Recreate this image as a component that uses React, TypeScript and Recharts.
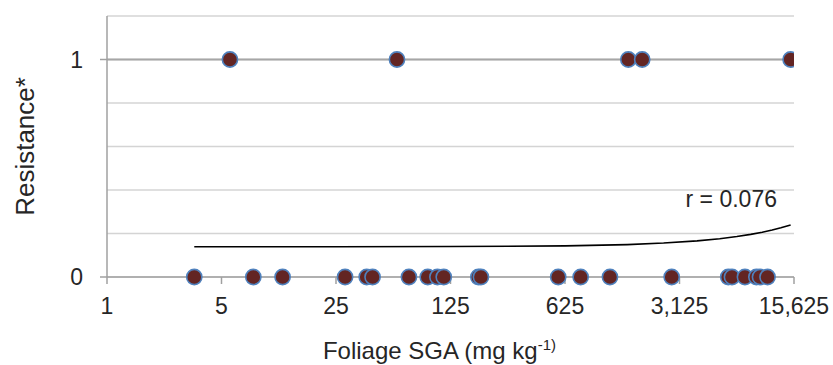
import React from "react";
import {
  ScatterChart,
  Scatter,
  XAxis,
  YAxis,
  CartesianGrid,
  ReferenceLine,
  ReferenceDot,
} from "recharts";

// x values (mg kg-1) of trees scored resistant (1)
const resistantX = [5.63, 58.9, 1522, 1850, 14900];
// x values of trees scored susceptible (0)
const susceptibleX = [
  3.41, 7.82, 11.8, 28.4, 38.5, 41.8, 69.7, 90.8, 104, 113.7, 184.9, 191.7,
  568, 779, 1176, 2800, 6200, 6535, 7840, 9210, 9690, 10770,
];
// fitted trend line
const trendX = [3.41, 25, 125, 625, 1500, 2500, 4000, 5500, 7000, 8500, 10000, 11500, 13000, 14900];
const trendY = [0.139, 0.139, 0.14, 0.143, 0.149, 0.156, 0.166, 0.176, 0.186, 0.196, 0.206, 0.216, 0.226, 0.239];

const xTicks = [1, 5, 25, 125, 625, 3125, 15625];
const yTicks = [0, 0.2, 0.4, 0.6, 0.8, 1, 1.2];
const yLabelled = [0, 1];
const rLabel = "r = 0.076";

const pointsData = [
  ...resistantX.map((x) => ({ x, y: 1 })),
  ...susceptibleX.map((x) => ({ x, y: 0 })),
];
const trendData = trendX.map((x, i) => ({ x, y: trendY[i] }));

const FONT = "'Liberation Sans', Arial, sans-serif";
const TEXT = "#262626";
const AXIS = "#a0a0a0";

const Dot = (p: any) => (
  <circle cx={p.cx} cy={p.cy} r={7.6} fill="#632523" stroke="#4f81bd" strokeWidth={1.6} />
);

const YTick = (p: any) => {
  const { x, y, payload } = p;
  if (!yLabelled.includes(payload.value)) return <g />;
  return (
    <g>
      <line x1={x + 17} x2={x + 24} y1={y} y2={y} stroke={AXIS} strokeWidth={1.5} />
      <text x={x} y={y} dy="0.36em" textAnchor="end" fontSize={23} fontFamily={FONT} fill={TEXT}>
        {payload.value}
      </text>
    </g>
  );
};

const XLabel = (p: any) => {
  const vb = p.viewBox || { x: 107, y: 277, width: 687, height: 88 };
  return (
    <text x={vb.x + vb.width / 2 - 11} y={vb.y + 82} textAnchor="middle" fontSize={24} fontFamily={FONT} fill={TEXT}>
      Foliage SGA (mg kg
      <tspan fontSize={15} dy={-9}>-1)</tspan>
    </text>
  );
};

const YLabel = (p: any) => {
  const vb = p.viewBox || { x: 0, y: 16, width: 107, height: 261 };
  const cx = 25;
  const cy = vb.y + vb.height / 2;
  return (
    <text
      x={cx}
      y={cy}
      dy="0.36em"
      transform={`rotate(-90 ${cx} ${cy})`}
      textAnchor="middle"
      fontSize={26}
      fontFamily={FONT}
      fill={TEXT}
    >
      Resistance*
    </text>
  );
};

const RText = (p: any) => (
  <text x={p.cx} y={p.cy} textAnchor="end" fontSize={23} fontFamily={FONT} fill={TEXT}>
    {rLabel}
  </text>
);

export default function App() {
  return (
    <div style={{ width: 833, height: 365, background: "#fff" }}>
      <style>{`body{margin:0}`}</style>
      <ScatterChart width={833} height={365} margin={{ top: 16, right: 39, left: 0, bottom: 0 }}>
        <CartesianGrid vertical={false} stroke="#d4d4d4" strokeWidth={1.5} />
        <XAxis
          type="number"
          dataKey="x"
          scale="log"
          domain={[1, 15625]}
          ticks={xTicks}
          allowDataOverflow
          height={88}
          tickSize={7}
          tickMargin={14}
          tickLine={{ stroke: AXIS, strokeWidth: 1.5 }}
          axisLine={{ stroke: AXIS, strokeWidth: 1.5 }}
          tick={{ fontSize: 23, fontFamily: FONT, fill: TEXT }}
          tickFormatter={(v: number) => v.toLocaleString("en-US")}
          label={<XLabel />}
        />
        <YAxis
          type="number"
          dataKey="y"
          domain={[0, 1.2]}
          ticks={yTicks}
          width={107}
          tickSize={7}
          tickMargin={17}
          tickLine={false}
          axisLine={{ stroke: AXIS, strokeWidth: 1.5 }}
          tick={<YTick />}
          label={<YLabel />}
        />
        <ReferenceLine y={1} stroke="#a6a6a6" strokeWidth={1.8} />
        <Scatter data={pointsData} shape={<Dot />} isAnimationActive={false} />
        <Scatter
          data={trendData}
          line={{ stroke: "#000", strokeWidth: 1.6 }}
          shape={() => <g />}
          isAnimationActive={false}
        />
        <ReferenceDot x={12300} y={0.32} r={0} shape={<RText />} />
      </ScatterChart>
    </div>
  );
}
